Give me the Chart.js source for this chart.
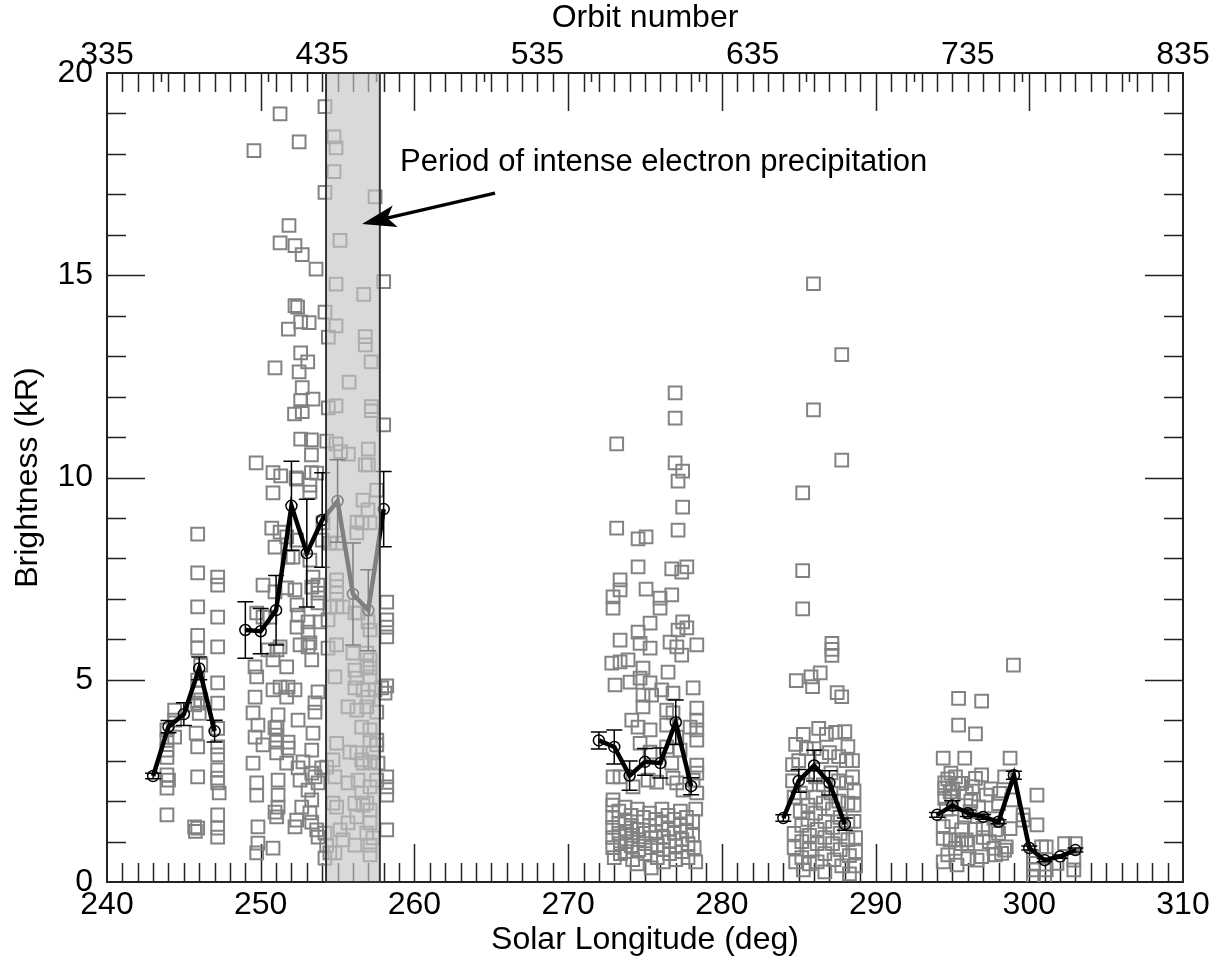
<!DOCTYPE html>
<html>
<head>
<meta charset="utf-8">
<script src="https://cdn.jsdelivr.net/npm/chart.js@4.4.1/dist/chart.umd.min.js"></script>
<style>
  html, body { margin: 0; padding: 0; background: #fff; }
  #wrap { width: 1219px; height: 958px; }
</style>
</head>
<body>
<div id="wrap"><canvas id="chart" width="1219" height="958"></canvas></div>
<script>
// Axis ranges and tick labels
const lonTicks = [240, 250, 260, 270, 280, 290, 300, 310];
const orbitTicks = [335, 435, 535, 635, 735, 835];
const kRTicks = [0, 5, 10, 15, 20];

// Individual observations [solar longitude, brightness kR]
const obsA = [
  [243.9,3.76],[243.9,3.5],[243.9,3.26],[243.9,3.08],[243.9,2.65],[243.9,2.32],[243.9,1.66],[244.0,2.52],
  [244.4,4.25],[244.4,4.0],[244.4,3.58],
  [245.7,1.36],[245.75,1.25],[245.7,4.38],[245.8,3.68],
  [245.9,8.6],[245.9,7.64],[245.9,6.8],[245.9,6.1],[245.9,5.78],[245.9,4.99],[245.9,4.67],[245.9,4.42],
  [246.0,4.17],[245.9,3.34],[245.9,2.6],[245.9,1.33],[246.1,5.36],[246.1,4.5],
  [247.2,7.54],[247.2,7.34],[247.2,6.55],[247.2,5.81],[247.2,4.92],[247.2,4.42],[247.2,3.8],[247.2,3.34],
  [247.2,3.14],[247.2,2.77],[247.2,2.57],[247.2,2.45],[247.3,2.2],[247.2,1.66],[247.2,1.33],[247.2,1.11]
];
const obsB = [
  [251.26,18.99],[254.18,19.17],[252.5,18.3],[249.56,18.08],[254.77,18.42],[254.9,18.15],[254.77,17.56],
  [254.18,17.05],[257.44,16.94],[251.84,16.23],[255.16,15.86],[251.26,15.8],[252.23,15.73],[252.7,15.51],
  [253.6,15.15],[254.9,14.78],[258.0,14.84],[256.7,14.53],[252.23,14.25],[252.4,14.21],[254.18,14.09],
  [254.9,13.75],[253.15,13.83],[252.6,13.85],[251.8,13.67],[254.4,13.47],[256.8,13.48],[256.8,13.28],
  [252.6,13.08],[253.06,12.86],[250.93,12.71],[252.5,12.61],[257.18,12.86],[255.75,12.36],[252.7,12.22],
  [252.6,11.9],[253.4,11.94],[252.2,11.57],[252.7,11.63],[254.4,11.72],[254.9,11.77],[257.2,11.75],
  [257.2,11.65],[258.0,11.3],[252.6,10.95],[253.3,10.93],[254.3,10.9],[254.9,10.83],[249.7,10.36],
  [253.3,10.56],[255.2,10.64],[255.7,10.58],[257.0,10.7],[250.8,10.12],[251.3,10.04],[252.3,9.99],
  [253.3,10.12],[256.8,10.31],[257.0,10.31],
  [252.34,9.96],[253.2,9.81],[253.2,9.64],[253.64,10.11],[250.8,9.62],[257.55,9.69],[256.66,9.44],
  [256.98,9.2],[254.05,8.88],[254.0,8.45],[254.5,8.38],[254.96,8.38],[256.27,8.9],[256.59,8.88],
  [257.11,8.88],[256.25,8.63],[250.72,8.75],[251.26,8.65],[251.69,8.53],[250.93,8.28],[252.1,8.03],
  [251.78,8.03],[252.34,8.45],[253.2,7.96],[253.4,7.54],[253.73,7.34],[253.73,7.14],[253.73,6.9],
  [250.15,7.34],[250.93,7.17],[251.69,7.27],[252.23,7.22],[253.32,7.29],[254.94,7.47],[254.94,7.3],
  [254.94,7.14],[254.5,6.8],[254.96,6.8],[255.35,6.8],[252.36,6.85],[252.43,6.6],[252.36,6.3],
  [253.08,6.43],[253.08,6.18],[253.2,5.91],[253.86,6.43],[254.38,6.48],[256.13,6.65],[256.33,6.65],
  [256.98,6.43],[257.11,6.23],[258.2,6.92],[258.2,6.48],[258.2,6.3],[258.2,6.06],[249.74,6.65],
  [250.15,6.55],[250.6,6.55],[251.26,5.81],[250.47,5.74],[251.06,5.74],[252.56,5.86],[253.08,5.81],
  [253.32,5.49],[254.94,5.86],[254.38,5.78],[256.0,5.66],[256.9,5.66],[257.11,5.49],[257.11,5.29],
  [249.63,5.32],[249.74,5.07],[249.63,4.57],[251.69,5.32],[250.8,5.49],[254.83,5.07],[256.13,5.24],
  [256.25,5.04],[256.13,4.8],[256.9,5.32],[257.11,5.07],[256.66,4.75],[257.44,4.75],[257.87,4.8],
  [258.09,4.67],[250.8,4.75],[251.26,4.82],[251.78,4.82],[252.23,4.75],[251.69,4.57],[253.73,4.7],
  [253.53,4.43],[253.53,4.2],[249.5,4.18],[249.82,3.88],[251.13,4.13],[251.06,3.83],[250.93,3.81],
  [252.43,4.0],[253.4,3.68],[255.68,4.33],[256.25,4.25],[256.98,4.57],[256.9,4.33],[257.55,4.2],
  [256.57,3.83],[257.11,3.76],[257.55,3.51],[257.11,3.51],[257.55,3.39],[249.63,3.58],[250.15,3.39],
  [249.5,2.94],[251.04,3.63],[251.04,3.46],[251.04,3.19],[251.78,3.46],[251.78,3.31],[251.69,2.94],
  [252.43,2.82],[253.32,3.26],[253.32,2.69],[252.75,2.97],[253.53,2.6],[253.97,2.82],[253.73,2.45],
  [254.29,2.84],[254.94,3.43],[254.7,3.02],[255.8,3.21],[256.25,3.19],[256.57,3.02],[256.66,2.94],
  [257.11,2.97],[257.3,3.19],[257.63,2.94],[254.83,2.6],[255.68,2.45],[256.33,2.52],[256.57,2.2],
  [257.11,2.35],[257.55,2.52],[256.9,1.95],[258.2,2.6],[258.2,2.35],[258.2,2.15],[249.74,2.45],
  [249.74,2.15],[251.13,2.52],[251.13,2.15],[251.13,1.85],[250.93,1.73],[251.04,1.61],[252.56,2.52],
  [252.67,1.85],[252.34,1.53],[252.23,1.36],[253.08,2.27],[253.32,2.03],[253.2,1.71],[253.32,1.48],
  [253.64,1.29],[253.73,1.11],[254.18,1.21],[254.29,0.91],[254.7,1.95],[254.94,1.85],[255.16,1.29],
  [255.68,1.46],[256.13,1.95],[256.25,1.61],[256.66,1.9],[257.11,1.78],[257.11,1.46],[256.9,1.21],
  [257.3,1.09],[257.11,0.91],[256.13,0.91],[257.11,0.67],[254.18,0.59],[249.82,1.36],[249.82,0.96],
  [249.74,0.72],[250.8,0.84],[254.5,0.72],[254.83,0.72],[255.35,1.04],[258.2,1.29],[258.2,4.85]
];
const obsC = [
  [276.96,12.09],[276.96,11.47],[273.16,10.83],[276.96,10.36],[277.45,10.16],[277.15,9.91],[277.45,9.27],
  [273.16,8.75],[274.55,8.48],[275.07,8.53],[277.15,8.7],[274.55,7.79],[276.74,7.74],[277.72,7.79],
  [277.39,7.66],[273.38,7.47],[273.38,7.22],[275.07,7.24],[275.98,7.02],[276.74,7.1],[272.92,7.05],
  [272.92,6.77],[275.98,6.77],[275.33,6.4],[274.55,6.18],[277.45,6.43],[277.15,6.23],[277.72,6.28],
  [273.38,5.98],[274.68,5.9],[275.33,5.78],[276.63,5.93],[277.07,5.81],[278.37,5.86],[277.39,5.61],
  [272.84,5.41],[273.38,5.44],[273.9,5.49],[274.87,5.29],[274.68,5.04],[275.33,4.92],[276.5,5.19],
  [276.82,4.67],[273.05,4.87],[274.03,4.94],[274.87,4.62],[275.43,4.62],[276.09,4.75],[278.13,4.8],
  [274.87,4.33],[276.41,4.25],[276.82,4.18],[278.37,4.3],[278.37,4.0],[278.37,3.76],[274.14,4.0],
  [274.55,3.83],[275.33,3.76],[276.41,3.88],[277.07,3.58],[277.93,3.83],[278.37,3.51],[278.37,2.89],
  [278.37,2.69],[274.68,3.43],[275.33,3.21],[276.41,3.34],[277.28,3.26],[276.74,2.94],[272.92,2.6],
  [273.38,2.6],[274.22,2.35],[272.92,2.03],[275.2,2.52],[275.76,2.47],[276.82,2.57],[277.07,2.45],
  [277.47,2.27],[278.13,2.52],[278.37,2.2],
  [272.9,1.9],[272.9,1.6],[272.9,1.35],[272.9,1.1],[272.9,0.85],[273.0,0.6],[273.3,1.75],[273.3,1.45],
  [273.3,1.2],[273.4,0.95],[273.4,0.7],[273.7,1.85],[273.7,1.5],[273.8,1.25],[273.8,1.0],[273.7,0.75],
  [274.1,1.65],[274.1,1.4],[274.2,1.15],[274.1,0.9],[274.2,0.55],[274.5,1.8],[274.5,1.3],[274.6,1.05],
  [274.6,0.8],[274.5,0.45],[274.9,1.6],[274.9,1.2],[275.0,0.95],[275.0,0.7],[275.3,1.7],[275.3,1.4],
  [275.4,1.1],[275.4,0.85],[275.4,0.35],[275.7,1.55],[275.7,1.25],[275.8,0.9],[275.8,0.6],[276.1,1.8],
  [276.1,1.45],[276.2,1.1],[276.2,0.8],[276.2,0.5],[276.5,1.65],[276.5,1.3],[276.6,1.0],[276.6,0.7],
  [276.9,1.55],[276.9,1.2],[277.0,0.9],[277.0,0.55],[277.3,1.75],[277.3,1.4],[277.4,1.05],[277.4,0.75],
  [277.7,1.6],[277.7,1.25],[277.8,0.95],[277.8,0.6],[278.1,1.5],[278.1,1.15],[278.2,0.85],[278.3,1.8],
  [278.3,0.5]
];
const obsD = [
  [285.96,14.79],[287.8,13.04],[285.96,11.67],[287.8,10.43],[285.26,9.62],[285.26,7.7],[285.26,6.75],
  [287.16,5.9],[287.16,5.75],[287.16,5.6],[284.84,4.98],[285.8,5.07],[286.4,5.17],[285.9,4.83],
  [287.5,4.68],[287.8,4.58],
  [284.8,3.4],[285.3,3.65],[286.3,3.8],[286.8,3.65],[287.4,3.7],[288.0,3.72],[288.2,3.35],[288.5,3.0],
  [288.5,2.6],[288.6,2.25],[288.6,1.9],[288.6,1.5],[288.7,1.1],[288.7,0.75],[288.7,0.4],[284.6,2.9],
  [284.6,2.5],[284.7,2.1],[284.7,1.2],[284.7,0.85],[284.8,0.5],[285.0,3.0],[285.1,2.2],[285.1,1.75],
  [285.2,1.4],[285.2,1.0],[285.2,0.6],[285.3,0.3],[285.5,3.3],[285.5,2.4],[285.6,1.9],[285.6,1.55],
  [285.7,1.15],[285.7,0.8],[285.7,0.45],[286.0,3.3],[286.1,2.6],[286.1,2.1],[286.1,1.7],[286.2,1.3],
  [286.2,0.95],[286.2,0.5],[286.5,3.1],[286.6,2.4],[286.6,1.95],[286.7,1.5],[286.7,1.1],[286.7,0.7],
  [286.7,0.25],[287.0,3.2],[287.1,2.7],[287.1,2.2],[287.2,1.8],[287.2,1.35],[287.2,0.95],[287.3,0.55],
  [287.6,3.1],[287.6,2.5],[287.6,2.0],[287.7,1.6],[287.7,1.2],[287.7,0.8],[287.8,0.4],[288.1,3.0],
  [288.1,2.45],[288.2,1.95],[288.2,1.5],[288.2,1.05],[288.3,0.65],[288.3,0.2]
];
const obsE = [
  [298.97,5.36],[295.4,4.54],[296.9,4.47],[295.4,3.88],[296.5,3.66],[294.4,3.06],[295.8,3.06],[298.75,3.06],
  [294.9,2.69],[296.9,2.65],[296.5,2.56],[296.3,2.36],[295.4,2.44],[295.6,2.44],[294.5,2.32],[294.85,2.23],
  [294.5,2.07],[294.95,2.1],[300.5,2.15],[298.1,2.19],[298.0,1.94],[298.85,2.03],[296.7,1.86],[296.15,1.74],
  [299.6,1.66],[299.6,1.53],[297.7,1.57],[297.8,1.29],[298.0,1.2],[298.75,1.32],
  [294.4,1.37],[294.96,1.49],[295.6,1.29],[297.0,1.33],[294.4,1.08],[294.85,1.04],[295.4,1.04],[295.9,1.04],
  [295.2,0.83],[295.6,0.95],[296.0,0.95],[294.7,0.67],[294.4,0.5],[296.0,0.58],[296.6,0.54],[296.9,0.63],
  [297.7,0.83],[297.8,0.67],[298.2,0.71],[298.4,0.79],[298.5,0.87],[295.3,0.42],[300.5,1.41],
  [300.27,0.63],[300.27,0.3],[300.27,0.13],[300.8,0.87],[301.1,0.87],[301.1,0.3],[301.0,0.13],[302.3,0.95],
  [303.0,0.95],[302.9,0.54],[302.9,0.3],[300.27,0.46],[301.8,0.46],
  [294.5,2.45],[294.7,2.55],[295.0,2.3],[295.2,2.6],[295.9,2.2],[296.2,2.0],[297.2,2.15],[297.5,2.3],
  [298.4,2.6],[297.0,1.1],[297.4,1.0],[294.6,1.8],[295.8,1.65],[296.5,1.3]
];

// Daily means with error bars (one array set per observing period)
const meanLonA = [243, 244, 245, 246, 247];
const meanKRA  = [2.62, 3.84, 4.15, 5.28, 3.73];
const meanErrA = [0.07, 0.15, 0.28, 0.28, 0.27];
const meanLonB = [249, 250, 251, 252, 253, 254, 255, 256, 257, 258];
const meanKRB  = [6.23, 6.2, 6.72, 9.3, 8.13, 8.95, 9.42, 7.12, 6.72, 9.22];
const meanErrB = [0.7, 0.56, 0.86, 1.1, 1.33, 1.17, 1.02, 1.26, 1.0, 0.93];
const meanLonC = [272, 273, 274, 275, 276, 277, 278];
const meanKRC  = [3.5, 3.34, 2.63, 2.97, 2.94, 3.95, 2.37];
const meanErrC = [0.21, 0.42, 0.36, 0.33, 0.37, 0.55, 0.21];
const meanLonD = [284, 285, 286, 287, 288];
const meanKRD  = [1.58, 2.5, 2.88, 2.45, 1.43];
const meanErrD = [0.08, 0.28, 0.38, 0.3, 0.15];
const meanLonE = [294, 295, 296, 297, 298, 299, 300, 301, 302, 303];
const meanKRE  = [1.66, 1.89, 1.7, 1.61, 1.49, 2.64, 0.84, 0.54, 0.63, 0.79];
const meanErrE = [0.06, 0.12, 0.08, 0.06, 0.05, 0.1, 0.05, 0.04, 0.04, 0.05];

// Period of intense electron precipitation (solar longitude)
const periodStart = 254.25;
const periodEnd = 257.75;

const FONT = "'Liberation Sans', Arial, Helvetica, sans-serif";

const obsPoints = [...obsA, ...obsB, ...obsC, ...obsD, ...obsE].map(([x, y]) => ({ x, y }));

const groups = [
  [meanLonA, meanKRA, meanErrA],
  [meanLonB, meanKRB, meanErrB],
  [meanLonC, meanKRC, meanErrC],
  [meanLonD, meanKRD, meanErrD],
  [meanLonE, meanKRE, meanErrE]
];
const meanPoints = [];
const errBars = [];
groups.forEach(([lons, vals, errs], g) => {
  if (g > 0) meanPoints.push({ x: lons[0] - 0.5, y: null });
  lons.forEach((lon, i) => {
    meanPoints.push({ x: lon, y: vals[i] });
    errBars.push({ x: lon, lo: vals[i] - errs[i], hi: vals[i] + errs[i] });
  });
});

// inward ticks, frame, error bars, shaded period and annotation
const decor = {
  id: 'decor',
  beforeDatasetsDraw(chart) {
    const { ctx, chartArea: a, scales } = chart;
    const x = scales.x, y = scales.y, xo = scales.x2;
    ctx.save();
    ctx.strokeStyle = '#222';
    ctx.lineWidth = 1.5;
    ctx.beginPath();
    for (let v = 241; v < 310; v++) {
      const px = Math.round(x.getPixelForValue(v)) + 0.5;
      const L = v % 10 === 0 ? 38 : 19;
      ctx.moveTo(px, a.bottom); ctx.lineTo(px, a.bottom - L);
      ctx.moveTo(px, a.top); ctx.lineTo(px, a.top + L);
    }
    for (let o = 360; o < 835; o += 25) {
      const px = Math.round(xo.getPixelForValue(o)) + 0.5;
      const L = (o - 335) % 100 === 0 ? 19 : 9;
      ctx.moveTo(px, a.top); ctx.lineTo(px, a.top + L);
    }
    for (let v = 1; v < 20; v++) {
      const py = Math.round(y.getPixelForValue(v)) + 0.5;
      const L = v % 5 === 0 ? 38 : 19;
      ctx.moveTo(a.left, py); ctx.lineTo(a.left + L, py);
      ctx.moveTo(a.right, py); ctx.lineTo(a.right - L, py);
    }
    ctx.stroke();
    ctx.lineWidth = 2;
    ctx.strokeRect(a.left, a.top, a.right - a.left, a.bottom - a.top);
    ctx.restore();
  },
  afterDatasetsDraw(chart) {
    const { ctx, chartArea: a, scales } = chart;
    const x = scales.x, y = scales.y;
    ctx.save();
    // error bars
    ctx.strokeStyle = '#000';
    ctx.lineWidth = 1.5;
    ctx.beginPath();
    errBars.forEach(e => {
      const px = x.getPixelForValue(e.x);
      const p1 = y.getPixelForValue(e.lo), p2 = y.getPixelForValue(e.hi);
      ctx.moveTo(px, p1); ctx.lineTo(px, p2);
      ctx.moveTo(px - 8, p1); ctx.lineTo(px + 8, p1);
      ctx.moveTo(px - 8, p2); ctx.lineTo(px + 8, p2);
    });
    ctx.stroke();
    // shaded period
    const bx1 = x.getPixelForValue(periodStart), bx2 = x.getPixelForValue(periodEnd);
    ctx.fillStyle = 'rgba(197,197,197,0.65)';
    ctx.fillRect(bx1, a.top, bx2 - bx1, a.bottom - a.top);
    ctx.strokeStyle = '#333';
    ctx.lineWidth = 2;
    ctx.strokeRect(bx1, a.top, bx2 - bx1, a.bottom - a.top);
    // annotation
    ctx.fillStyle = '#000';
    ctx.font = '31px ' + FONT;
    ctx.textBaseline = 'middle';
    ctx.textAlign = 'left';
    ctx.fillText('Period of intense electron precipitation', x.getPixelForValue(259.06), y.getPixelForValue(17.8));
    const tx = x.getPixelForValue(265.24), ty = y.getPixelForValue(17.03);
    const hx = x.getPixelForValue(256.59), hy = y.getPixelForValue(16.27);
    const ang = Math.atan2(hy - ty, hx - tx);
    ctx.strokeStyle = '#000';
    ctx.lineWidth = 3.5;
    ctx.beginPath();
    ctx.moveTo(tx, ty);
    ctx.lineTo(hx - 20 * Math.cos(ang), hy - 20 * Math.sin(ang));
    ctx.stroke();
    ctx.translate(hx, hy);
    ctx.rotate(ang);
    ctx.beginPath();
    ctx.moveTo(0, 0);
    ctx.lineTo(-34, -11);
    ctx.lineTo(-26, 0);
    ctx.lineTo(-34, 11);
    ctx.closePath();
    ctx.fill();
    ctx.restore();
  }
};

const tickFont = { family: FONT, size: 32, lineHeight: 1 };
const titleFont = { family: FONT, size: 32, lineHeight: 1 };
const setTicks = list => scale => { scale.ticks = list.map(v => ({ value: v })); };

new Chart(document.getElementById('chart'), {
  type: 'scatter',
  data: {
    datasets: [
      {
        label: 'Daily mean',
        type: 'line',
        data: meanPoints,
        showLine: true,
        spanGaps: false,
        tension: 0,
        borderColor: '#000',
        borderWidth: 4.5,
        pointStyle: 'circle',
        pointRadius: 5.5,
        pointBorderWidth: 1.5,
        pointBorderColor: '#000',
        pointBackgroundColor: 'rgba(0,0,0,0)',
        order: 0
      },
      {
        label: 'Observations',
        data: obsPoints,
        showLine: false,
        pointStyle: 'rect',
        pointRadius: 9,
        pointBorderWidth: 2,
        pointBorderColor: '#828282',
        pointBackgroundColor: 'rgba(0,0,0,0)',
        order: 1
      }
    ]
  },
  options: {
    responsive: false,
    animation: false,
    events: [],
    layout: { padding: 0 },
    plugins: { legend: { display: false }, tooltip: { enabled: false } },
    scales: {
      x: {
        type: 'linear', position: 'bottom', min: 240, max: 310,
        afterBuildTicks: setTicks(lonTicks),
        afterFit: s => { s.height = 76; },
        grid: { display: false, drawTicks: false },
        border: { display: false },
        ticks: { padding: 7, color: '#000', font: tickFont, maxRotation: 0, autoSkip: false },
        title: { display: true, text: 'Solar Longitude (deg)', color: '#000', font: titleFont, padding: { top: 0, bottom: 2 } }
      },
      x2: {
        type: 'linear', position: 'top', min: 335, max: 835,
        afterBuildTicks: setTicks(orbitTicks),
        afterFit: s => { s.height = 73; },
        grid: { display: false, drawTicks: false },
        border: { display: false },
        ticks: { padding: 2, color: '#000', font: tickFont, maxRotation: 0, autoSkip: false },
        title: { display: true, text: 'Orbit number', color: '#000', font: titleFont, padding: { top: 2, bottom: 0 } }
      },
      y: {
        type: 'linear', position: 'left', min: 0, max: 20,
        afterBuildTicks: setTicks(kRTicks),
        afterFit: s => { s.width = 107; },
        grid: { display: false, drawTicks: false },
        border: { display: false },
        ticks: { padding: 14, color: '#000', font: tickFont },
        title: { display: true, text: 'Brightness (kR)', color: '#000', font: titleFont, padding: { top: 12, bottom: 0 } }
      },
      y2: {
        type: 'linear', position: 'right', min: 0, max: 20,
        afterFit: s => { s.width = 36; },
        grid: { display: false, drawTicks: false },
        border: { display: false },
        ticks: { display: false }
      }
    }
  },
  plugins: [decor]
});
</script>
</body>
</html>
